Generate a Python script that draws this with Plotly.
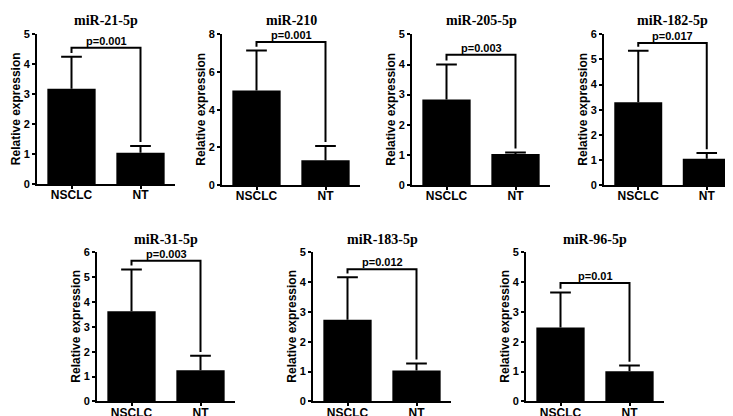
import plotly.graph_objects as go

W, H = 733, 416

# ---- data ----
titles = ["miR-21-5p", "miR-210", "miR-205-5p", "miR-182-5p", "miR-31-5p", "miR-183-5p", "miR-96-5p"]
groups = ["NSCLC", "NT"]
nsclc_mean = [3.18, 5.02, 2.84, 3.30, 3.62, 2.73, 2.47]
nsclc_err = [1.07, 2.12, 1.16, 2.05, 1.68, 1.42, 1.17]
nt_mean = [1.04, 1.31, 1.03, 1.04, 1.25, 1.04, 1.01]
nt_err = [0.23, 0.76, 0.05, 0.23, 0.58, 0.23, 0.19]
p_labels = ["p=0.001", "p=0.001", "p=0.003", "p=0.017", "p=0.003", "p=0.012", "p=0.01"]
bracket_y = [4.55, 7.60, 4.32, 5.66, 5.65, 4.42, 3.96]
y_max = [5, 8, 5, 6, 6, 5, 5]
y_dtick = [1, 2, 1, 1, 1, 1, 1]

# ---- layout geometry (pixels): x_left, x_right, y_top, y_bottom ----
boxes = [
    (29, 167, 21, 175),
    (214, 352, 21, 176),
    (404, 542, 21, 176),
    (596, 733, 21, 176),
    (89, 227, 245, 399),
    (305, 443, 245, 399),
    (518, 656, 245, 399),
]
title_y_px = [7, 7, 7, 7, 232, 232, 232]

SANS = "Liberation Sans"
SERIF = "Liberation Serif"
BAR_W = 0.7
CAP = 0.15

fig = go.Figure()
annotations = []
shapes = []
layout_axes = {}
xpos = list(range(len(groups)))

for i in range(7):
    n = i + 1
    xa = "x" if n == 1 else f"x{n}"
    ya = "y" if n == 1 else f"y{n}"
    x0, x1, yt, yb = boxes[i]
    means = [nsclc_mean[i], nt_mean[i]]
    errs = [nsclc_err[i], nt_err[i]]
    fig.add_trace(go.Bar(
        x=xpos, y=means, xaxis=xa, yaxis=ya,
        marker=dict(color="black", line=dict(width=0)),
        width=BAR_W, showlegend=False, hoverinfo="skip",
    ))
    # upper-only error bars (stem + cap), built from the data
    ex, ey = [], []
    for g, m, e in zip(xpos, means, errs):
        ex += [g, g, None, g - CAP, g + CAP, None]
        ey += [m, m + e, None, m + e, m + e, None]
    fig.add_trace(go.Scatter(
        x=ex, y=ey, xaxis=xa, yaxis=ya, mode="lines",
        line=dict(color="black", width=2), showlegend=False, hoverinfo="skip",
        cliponaxis=False,
    ))
    xkey = "xaxis" if n == 1 else f"xaxis{n}"
    ykey = "yaxis" if n == 1 else f"yaxis{n}"
    layout_axes[xkey] = dict(
        domain=[x0 / W, x1 / W], anchor=ya,
        range=[-0.5, 1.5], tickvals=xpos, ticktext=groups,
        showline=True, linecolor="black", linewidth=2,
        showgrid=False, zeroline=False,
        ticks="outside", ticklen=3, tickwidth=2, tickcolor="black",
        ticklabelstandoff=-4,
        tickfont=dict(family=SANS, size=12, color="black", weight="bold"),
    )
    layout_axes[ykey] = dict(
        domain=[1 - yb / H, 1 - yt / H], anchor=xa,
        range=[0, y_max[i]], dtick=y_dtick[i], tick0=0,
        showline=True, linecolor="black", linewidth=2,
        showgrid=False, zeroline=False,
        ticks="outside", ticklen=3, tickwidth=2, tickcolor="black",
        tickfont=dict(family=SANS, size=11, color="black", weight="bold"),
    )
    # significance bracket
    px_per_unit = (yb - yt) / y_max[i]
    gap = 4 / px_per_unit
    left_end = nsclc_mean[i] + nsclc_err[i] + gap
    right_end = nt_mean[i] + nt_err[i] + gap
    b = bracket_y[i]
    shapes.append(dict(
        type="path", xref=xa, yref=ya,
        path=f"M {xpos[0]} {left_end} L {xpos[0]} {b} L {xpos[1]} {b} L {xpos[1]} {right_end}",
        line=dict(color="black", width=2),
    ))
    annotations.append(dict(
        x=0.5, y=b, xref=xa, yref=ya, text=f"<b>{p_labels[i]}</b>",
        showarrow=False, yanchor="bottom", yshift=-1,
        font=dict(family=SANS, size=11, color="black"),
    ))
    # panel title
    annotations.append(dict(
        x=0.5, y=1 - title_y_px[i] / H, xref=xa, yref="paper",
        text=f"<b>{titles[i]}</b>", showarrow=False,
        xanchor="center", yanchor="middle",
        font=dict(family=SERIF, size=14, color="black"),
    ))
    # y-axis title
    annotations.append(dict(
        x=(x0 - 21) / W, y=1 - ((yt + yb) / 2) / H, xref="paper", yref="paper",
        text="<b>Relative expression</b>", showarrow=False, textangle=-90,
        xanchor="center", yanchor="middle",
        font=dict(family=SANS, size=12, color="black"),
    ))

fig.update_layout(
    width=W, height=H,
    margin=dict(l=0, r=0, t=0, b=0),
    paper_bgcolor="white", plot_bgcolor="white",
    annotations=annotations, shapes=shapes,
    **layout_axes,
)

fig.write_html("out.html")
